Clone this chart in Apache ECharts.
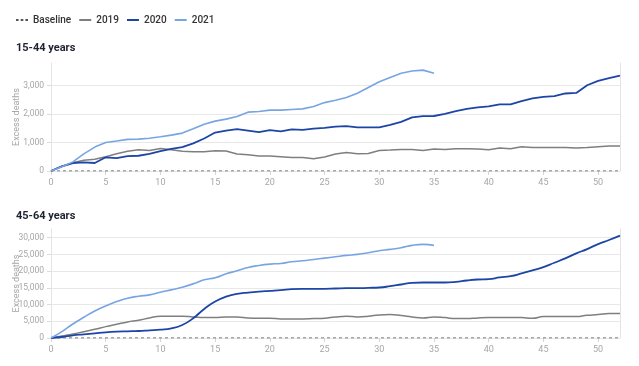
<!DOCTYPE html>
<html>
<head>
<meta charset="utf-8">
<script src="https://cdn.jsdelivr.net/npm/echarts@6/dist/echarts.min.js"></script>
<style>
html,body{margin:0;padding:0;background:#fff;}
#chart{width:639px;height:366px;}
</style>
</head>
<body>
<div id="chart"></div>
<script>
// ---- Data ----
const weeks = Array.from({length: 53}, (_, i) => String(i));
const seriesNames = ['Baseline', '2019', '2020', '2021'];
const panelTitles = ['15-44 years', '45-64 years'];
const yAxisName = 'Excess deaths';

const baseline = weeks.map(() => 0);

// 15-44 years
const top2019 = [0,170,290,380,410,500,605,690,745,720,790,745,690,675,675,710,700,595,570,525,525,500,475,475,430,490,595,650,605,615,720,735,755,755,720,770,755,780,780,770,745,805,780,850,825,825,825,825,805,825,850,875,875];
const top2020 = [0,160,280,300,280,480,450,525,535,600,700,780,840,970,1140,1350,1420,1470,1420,1365,1435,1390,1460,1445,1490,1515,1560,1575,1530,1530,1530,1620,1725,1880,1925,1930,2005,2100,2180,2230,2265,2335,2335,2450,2545,2600,2625,2720,2740,3010,3160,3255,3350];
const top2021 = [0,150,320,600,840,1000,1050,1110,1120,1150,1200,1260,1330,1480,1640,1750,1820,1910,2065,2090,2135,2135,2160,2180,2265,2400,2485,2580,2730,2930,3130,3280,3430,3510,3540,3430];

// 45-64 years
const bot2019 = [0,600,1200,1900,2600,3400,4100,4800,5300,6000,6500,6500,6500,6300,6100,6100,6300,6300,6000,5900,5900,5700,5700,5700,5800,5900,6300,6500,6300,6500,6900,7000,6700,6300,6000,6300,6100,5800,5800,6000,6100,6100,6100,6100,5900,6400,6400,6400,6400,6800,7000,7300,7300];
const bot2020 = [0,300,800,1100,1400,1700,1900,2000,2100,2300,2500,2900,3900,5900,8700,10900,12400,13200,13600,13900,14100,14300,14600,14700,14700,14700,14800,14900,14900,15000,15100,15500,16000,16500,16600,16600,16600,16800,17200,17500,17600,18100,18500,19300,20200,21200,22500,23800,25300,26600,28100,29300,30600];
const bot2021 = [0,1900,4200,6200,8100,9600,10900,11900,12500,12900,13700,14400,15200,16200,17400,18000,19200,20100,21100,21700,22100,22300,22800,23100,23500,23900,24300,24700,25000,25500,26100,26500,27000,27700,28000,27700];

// ---- Styles ----
const FONT = 'Roboto, "DejaVu Sans", sans-serif';
const C_BASE = '#555555';
const C_2019 = '#7f7f7f';
const C_2020 = '#1c45a6';
const C_2021 = '#78a5e2';
const GRIDC = '#e8e8e8';
const LABELC = '#a6a6a6';
const ICON_SOLID = 'path://M0,0h12v2h-12z';
const ICON_DASH = 'path://M0,0h2.6v2h-2.6z M4.7,0h2.6v2h-2.6z M9.4,0h2.6v2h-2.6z';

const chart = echarts.init(document.getElementById('chart'), null, {renderer: 'canvas'});

function xAxis(gi) {
  return {
    type: 'category', gridIndex: gi, data: weeks, boundaryGap: false,
    axisLine: {show: false},
    axisTick: {show: true, interval: 4, alignWithLabel: true, length: 4, lineStyle: {color: '#d5d5d5'}},
    axisLabel: {interval: 4, color: LABELC, fontSize: 9, fontFamily: FONT, margin: 7},
    splitLine: {show: false}
  };
}
function yAxisL(gi, max, interval, nLines) {
  const cols = [];
  for (let i = 0; i < nLines; i++) cols.push(GRIDC);
  cols.push('rgba(0,0,0,0)');
  return {
    type: 'value', gridIndex: gi, min: 0, max: max, interval: interval,
    name: yAxisName, nameLocation: 'middle', nameGap: 30, nameRotate: 90, nameMoveOverlap: false,
    nameTextStyle: {color: LABELC, fontSize: 9, fontFamily: FONT},
    axisLine: {show: true, lineStyle: {color: '#e3e3e3'}},
    axisTick: {show: true, length: 4, lineStyle: {color: '#dcdcdc'}},
    axisLabel: {color: LABELC, fontSize: 8.5, fontFamily: FONT, margin: 7, showMaxLabel: false},
    splitLine: {show: true, lineStyle: {color: cols, width: 1}}
  };
}
function yAxisR(gi, max) {
  return {
    type: 'value', gridIndex: gi, min: 0, max: max, position: 'right',
    axisLine: {show: true, lineStyle: {color: '#e3e3e3'}},
    axisTick: {show: false}, axisLabel: {show: false}, splitLine: {show: false}
  };
}
function line(name, data, xi, yi, color, width, smooth, dashed) {
  return {
    name: name, type: 'line', xAxisIndex: xi, yAxisIndex: yi, data: data,
    symbol: 'none', smooth: smooth, silent: true, animation: false,
    lineStyle: {color: color, width: width, type: dashed ? [3, 3] : 'solid'},
    itemStyle: {color: color}
  };
}

const option = {
  animation: false,
  textStyle: {fontFamily: FONT},
  title: [
    {text: panelTitles[0], left: 11, top: 38, textStyle: {fontSize: 11, fontWeight: 'bold', color: '#1e2230', fontFamily: FONT}},
    {text: panelTitles[1], left: 11, top: 206, textStyle: {fontSize: 11, fontWeight: 'bold', color: '#1e2230', fontFamily: FONT}}
  ],
  legend: {
    data: [
      {name: seriesNames[0], icon: ICON_DASH},
      {name: seriesNames[1], icon: ICON_SOLID},
      {name: seriesNames[2], icon: ICON_SOLID},
      {name: seriesNames[3], icon: ICON_SOLID}
    ],
    left: 11, top: 10, itemWidth: 12, itemHeight: 2, itemGap: 8,
    textStyle: {fontSize: 10, color: '#333', fontFamily: FONT, fontWeight: 500}
  },
  grid: [
    {left: 51, right: 19, top: 63, height: 108, outerBoundsMode: 'none', containLabel: false},
    {left: 51, right: 19, top: 229, height: 109, outerBoundsMode: 'none', containLabel: false}
  ],
  xAxis: [xAxis(0), xAxis(1)],
  yAxis: [yAxisL(0, 3790, 1000, 4), yAxisR(0, 3790), yAxisL(1, 32600, 5000, 7), yAxisR(1, 32600)],
  series: [
    line(seriesNames[0], baseline, 0, 0, C_BASE, 1.1, false, true),
    line(seriesNames[1], top2019, 0, 0, C_2019, 1.5, false, false),
    line(seriesNames[2], top2020, 0, 0, C_2020, 1.8, false, false),
    line(seriesNames[3], top2021, 0, 0, C_2021, 1.6, false, false),
    line(seriesNames[0], baseline, 1, 2, C_BASE, 1.1, false, true),
    line(seriesNames[1], bot2019, 1, 2, C_2019, 1.5, true, false),
    line(seriesNames[2], bot2020, 1, 2, C_2020, 1.8, true, false),
    line(seriesNames[3], bot2021, 1, 2, C_2021, 1.6, true, false)
  ]
};
chart.setOption(option);
</script>
</body>
</html>
